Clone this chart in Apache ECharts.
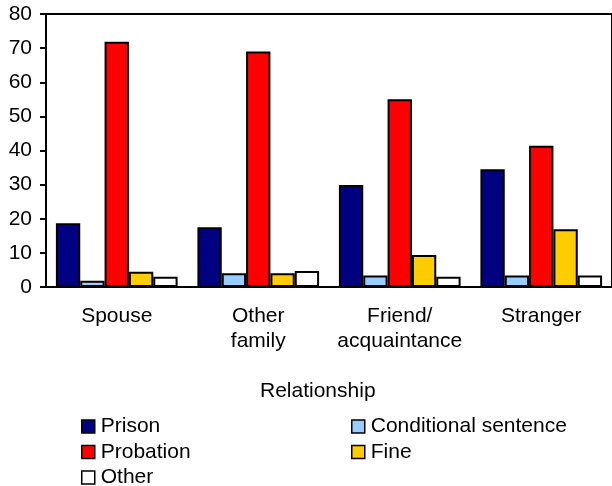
<!DOCTYPE html>
<html>
<head>
<meta charset="utf-8">
<script src="https://cdn.jsdelivr.net/npm/echarts@6/dist/echarts.min.js"></script>
<style>
  html, body { margin: 0; padding: 0; background: #fff; }
  #chart { width: 612px; height: 486px; }
</style>
</head>
<body>
<div id="chart"></div>
<script>
// Categories along the x axis
const categories = ['Spouse', 'Other\nfamily', 'Friend/\nacquaintance', 'Stranger'];

// Sentence types (percent)
const prison = [18.7, 17.5, 29.9, 34.5];
const conditional = [1.8, 4.0, 3.4, 3.4];
const probation = [71.9, 69.0, 55.0, 41.4];
const fine = [4.5, 4.0, 9.4, 16.9];
const other = [3.0, 4.7, 3.0, 3.4];

const yTicks = { min: 0, max: 80, interval: 10 };

const FONT = '"Liberation Sans", Arial, sans-serif';
const FS = 21;

const seriesDefs = [
  { name: 'Prison', data: prison, color: '#000080' },
  { name: 'Conditional sentence', data: conditional, color: '#99ccff' },
  { name: 'Probation', data: probation, color: '#ff0000' },
  { name: 'Fine', data: fine, color: '#ffcc00' },
  { name: 'Other', data: other, color: '#ffffff' }
];

const chart = echarts.init(document.getElementById('chart'), null, { renderer: 'canvas' });

const legendCommon = {
  orient: 'vertical',
  icon: 'rect',
  itemWidth: 13,
  itemHeight: 13,
  itemGap: 4.5,
  padding: 0,
  height: 90,
  selectedMode: false,
  itemStyle: { borderColor: '#000', borderWidth: 1.5 },
  textStyle: { fontFamily: FONT, fontSize: FS, lineHeight: 20, color: '#000', padding: [0, 0, 0, 1] }
};

chart.setOption({
  animation: false,
  backgroundColor: '#fff',
  title: {
    text: 'Relationship',
    left: 260,
    top: 381,
    padding: 0,
    textStyle: { fontFamily: FONT, fontSize: FS, fontWeight: 'normal', color: '#000' }
  },
  legend: [
    Object.assign({}, legendCommon, { left: 81, top: 416, data: ['Prison', 'Probation', 'Other'] }),
    Object.assign({}, legendCommon, { left: 351, top: 416, data: ['Conditional sentence', 'Fine'] })
  ],
  grid: {
    left: 46,
    top: 14,
    width: 572,
    height: 273,
    show: true,
    borderColor: '#000',
    borderWidth: 2,
    containLabel: false
  },
  xAxis: {
    type: 'category',
    data: categories,
    axisLine: { lineStyle: { color: '#000', width: 2 } },
    axisTick: { show: false },
    axisLabel: {
      fontFamily: FONT, fontSize: FS, color: '#000',
      lineHeight: 25, margin: 17, interval: 0
    },
    splitLine: { show: false }
  },
  yAxis: {
    type: 'value',
    min: yTicks.min,
    max: yTicks.max,
    interval: yTicks.interval,
    axisLine: { show: true, lineStyle: { color: '#000', width: 2 } },
    axisTick: { show: true, inside: false, length: 6, lineStyle: { color: '#000', width: 2 } },
    axisLabel: { fontFamily: FONT, fontSize: FS, color: '#000', margin: 14 },
    splitLine: { show: false }
  },
  series: seriesDefs.map(s => ({
    name: s.name,
    type: 'bar',
    data: s.data,
    barGap: '0%',
    barCategoryGap: '14%',
    itemStyle: { color: s.color, borderColor: '#000', borderWidth: 2 }
  }))
});
</script>
</body>
</html>
